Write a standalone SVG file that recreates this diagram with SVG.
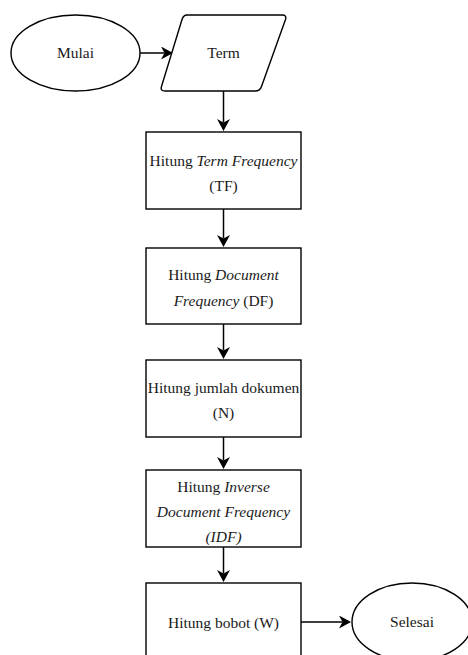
<svg xmlns="http://www.w3.org/2000/svg" width="468" height="655" viewBox="0 0 468 655">
<style>
.s{fill:#fff;stroke:#000;stroke-width:1.4}
.t{font-family:"Liberation Serif","Times New Roman",serif;font-size:15.5px;fill:#1a1a1a;text-anchor:middle}
.i{font-style:italic}
.c{fill:none;stroke:#000;stroke-width:1.5}
</style>
<defs>
<marker id="ah" markerUnits="userSpaceOnUse" markerWidth="12" markerHeight="13" viewBox="0 0 12 13" refX="3.5" refY="6.5" orient="auto">
<path d="M0,0 L12,6.5 L0,13 L3.5,6.5 Z" fill="#000"/>
</marker>
</defs>
<rect width="468" height="655" fill="#fff"/>
<g id="connectors">
<line class="c" x1="140" y1="53" x2="164.5" y2="53" marker-end="url(#ah)"/>
<line class="c" x1="223.5" y1="91" x2="223.5" y2="122.5" marker-end="url(#ah)"/>
<line class="c" x1="223.5" y1="209" x2="223.5" y2="238.5" marker-end="url(#ah)"/>
<line class="c" x1="223.5" y1="324" x2="223.5" y2="350.5" marker-end="url(#ah)"/>
<line class="c" x1="223.5" y1="437" x2="223.5" y2="460.5" marker-end="url(#ah)"/>
<line class="c" x1="223.5" y1="547" x2="223.5" y2="573.5" marker-end="url(#ah)"/>
<line class="c" x1="301" y1="622" x2="342.5" y2="622" marker-end="url(#ah)"/>
</g>
<g id="mulai">
<ellipse class="s" cx="75.5" cy="53" rx="64.5" ry="38"/>
<text class="t" x="75.5" y="58">Mulai</text>
</g>
<g id="term">
<path class="s" d="M187,15 L282,15 Q287,15 285.5,19.5 L261.5,86.5 Q260,91 255,91 L165,91 Q160,91 161.5,86.5 L182,19.5 Q183.5,15 187,15 Z"/>
<text class="t" x="223.5" y="58">Term</text>
</g>
<g id="tf">
<rect class="s" x="146" y="132" width="155" height="77"/>
<text class="t" x="223.5" y="166">Hitung <tspan class="i">Term Frequency</tspan></text>
<text class="t" x="223.5" y="191">(TF)</text>
</g>
<g id="df">
<rect class="s" x="146" y="248" width="155" height="76"/>
<text class="t" x="223.5" y="280">Hitung <tspan class="i">Document</tspan></text>
<text class="t" x="223.5" y="306"><tspan class="i">Frequency</tspan> (DF)</text>
</g>
<g id="n">
<rect class="s" x="146" y="360" width="155" height="77"/>
<text class="t" x="223.5" y="393">Hitung jumlah dokumen</text>
<text class="t" x="223.5" y="418">(N)</text>
</g>
<g id="idf">
<rect class="s" x="146" y="470" width="155" height="77"/>
<text class="t" x="223.5" y="492">Hitung <tspan class="i">Inverse</tspan></text>
<text class="t i" x="223.5" y="517">Document Frequency</text>
<text class="t i" x="223.5" y="542">(IDF)</text>
</g>
<g id="w">
<rect class="s" x="146" y="583" width="155" height="78"/>
<text class="t" x="223.5" y="628">Hitung bobot (W)</text>
</g>
<g id="selesai">
<ellipse class="s" cx="412" cy="622" rx="60" ry="39"/>
<text class="t" x="412" y="627">Selesai</text>
</g>
</svg>
